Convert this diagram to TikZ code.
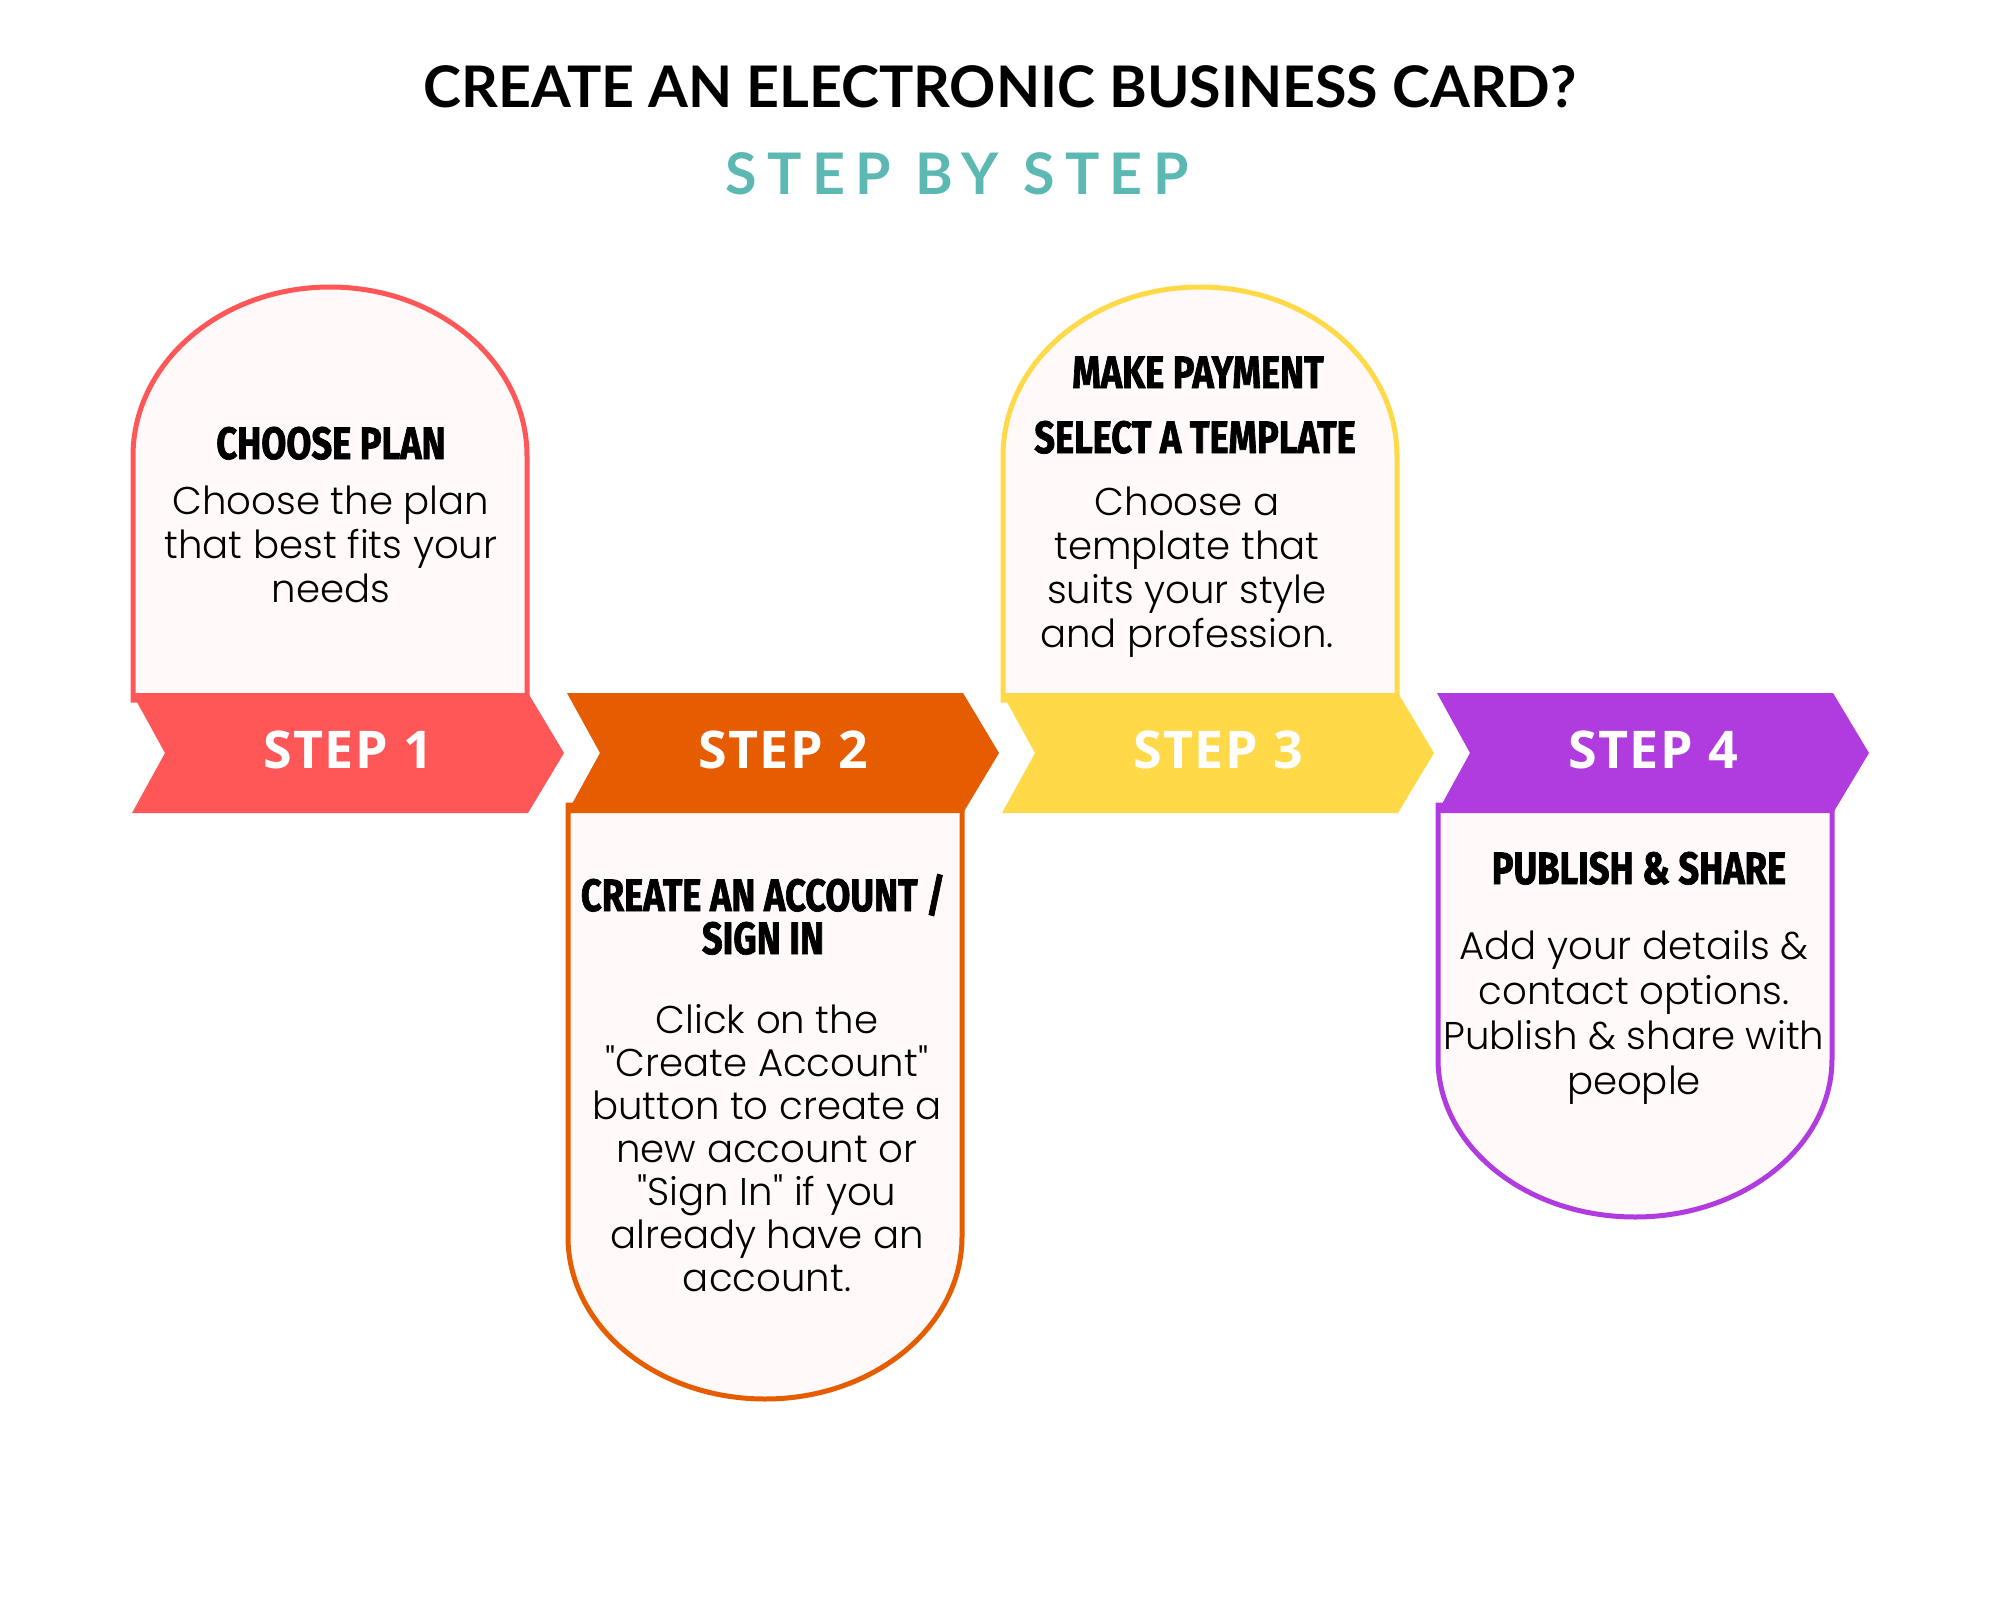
\documentclass[tikz,border=0pt]{standalone}
\usepackage{fontspec}
\usepackage{xcolor}
\usepackage{tikz}
\setmainfont{Poppins}[UprightFont=*-Light]
\newfontfamily\titlefont{Lato}
\newfontfamily\spacedfont{Lato}[LetterSpace=18]
\newfontfamily\bannerfont{Open Sans}[LetterSpace=3]
\newfontfamily\headfont{Fira Sans}[FakeStretch=0.8,BoldFeatures={FakeBold=1.5}]
\definecolor{stepone}{HTML}{FF5757}
\definecolor{steptwo}{HTML}{E65C00}
\definecolor{stepthree}{HTML}{FFD947}
\definecolor{stepfour}{HTML}{B03CDF}
\definecolor{tealtxt}{HTML}{5CB8B2}
\definecolor{cardfill}{HTML}{FFFAF9}

\begin{document}
\begin{tikzpicture}[x=0.75pt,y=0.75pt,yscale=-1,xscale=1,
  card/.style={fill=cardfill,line width=3.75pt},
  bannertxt/.style={text=white,font=\bannerfont\bfseries\fontsize{39}{46}\selectfont,inner sep=0pt,anchor=base},
  headtxt/.style={font=\headfont\bfseries\fontsize{34}{32.25}\selectfont,inner sep=0pt,anchor=base,align=center},
  bodytxt/.style={font=\fontsize{29}{33}\selectfont,inner sep=0pt,anchor=base,align=center}]
%set diagram size 2000 x 1613
\useasboundingbox (0,0) rectangle (2000,1613);
\fill [white] (0,0) rectangle (2000,1613);
%Shape: Card 1
\draw [card,draw=stepone] (133,700) -- (133,456) arc[start angle=180,end angle=360,x radius=197,y radius=169] -- (527,700) -- cycle ;
%Shape: Card 3
\draw [card,draw=stepthree] (1003,700) -- (1003,456) arc[start angle=180,end angle=360,x radius=197,y radius=169] -- (1397,700) -- cycle ;
%Shape: Card 2
\draw [card,draw=steptwo] (568,805) -- (568,1237) arc[start angle=180,end angle=0,x radius=197,y radius=162] -- (962,805) -- cycle ;
%Shape: Card 4
\draw [card,draw=stepfour] (1438,805) -- (1438,1059) arc[start angle=180,end angle=0,x radius=197,y radius=158] -- (1832,805) -- cycle ;
%Shape: Banner 1
\fill [stepone] (132,693) -- (528,693) -- (564,753) -- (528,813) -- (132,813) -- (165,753) -- cycle ;
%Shape: Banner 2
\fill [steptwo] (567,693) -- (963,693) -- (999,753) -- (963,813) -- (567,813) -- (600,753) -- cycle ;
%Shape: Banner 3
\fill [stepthree] (1002,693) -- (1398,693) -- (1434,753) -- (1398,813) -- (1002,813) -- (1035,753) -- cycle ;
%Shape: Banner 4
\fill [stepfour] (1437,693) -- (1833,693) -- (1869,753) -- (1833,813) -- (1437,813) -- (1470,753) -- cycle ;
% Text Node
\draw (1000,107) node (title) [anchor=base,inner sep=0pt,font=\titlefont\bfseries\fontsize{43}{50}\selectfont] {CREATE AN ELECTRONIC BUSINESS CARD?};
% Text Node
\draw (957,194) node (subtitle) [anchor=base,inner sep=0pt,text=tealtxt,font=\spacedfont\bfseries\fontsize{43}{50}\selectfont] {STEP BY STEP};
% Text Node
\draw (348,768) node (lab1) [bannertxt] {STEP 1};
% Text Node
\draw (783,768) node (lab2) [bannertxt] {STEP 2};
% Text Node
\draw (1218,768) node (lab3) [bannertxt] {STEP 3};
% Text Node
\draw (1653,768) node (lab4) [bannertxt] {STEP 4};
% Text Node
\draw (331,459) node (head1) [headtxt] {CHOOSE PLAN};
% Text Node
\draw (331,602) node (body1) [bodytxt] {Choose the plan\\that best fits your\\needs};
% Text Node
\draw (763,954) node (head2) [headtxt] {CREATE AN ACCOUNT /\\SIGN IN};
% Text Node
\draw (767,1291) node (body2) [bodytxt,font=\fontsize{29}{32.25}\selectfont] {Click on the\\\textquotedbl Create Account\textquotedbl\\button to create a\\new account or\\\textquotedbl Sign In\textquotedbl{} if you\\already have an\\account.};
% Text Node
\draw (1198,388) node (head3a) [headtxt] {MAKE PAYMENT};
% Text Node
\draw (1195,453) node (head3b) [headtxt] {SELECT A TEMPLATE};
% Text Node
\draw (1187,647) node (body3) [bodytxt] {Choose a\\template that\\suits your style\\and profession.};
% Text Node
\draw (1639,884) node (head4) [headtxt] {PUBLISH \& SHARE};
% Text Node
\draw (1634,1094) node (body4) [bodytxt,font=\fontsize{29}{33.75}\selectfont] {Add your details \&\\contact options.\\Publish \& share with\\people};
\end{tikzpicture}
\end{document}
